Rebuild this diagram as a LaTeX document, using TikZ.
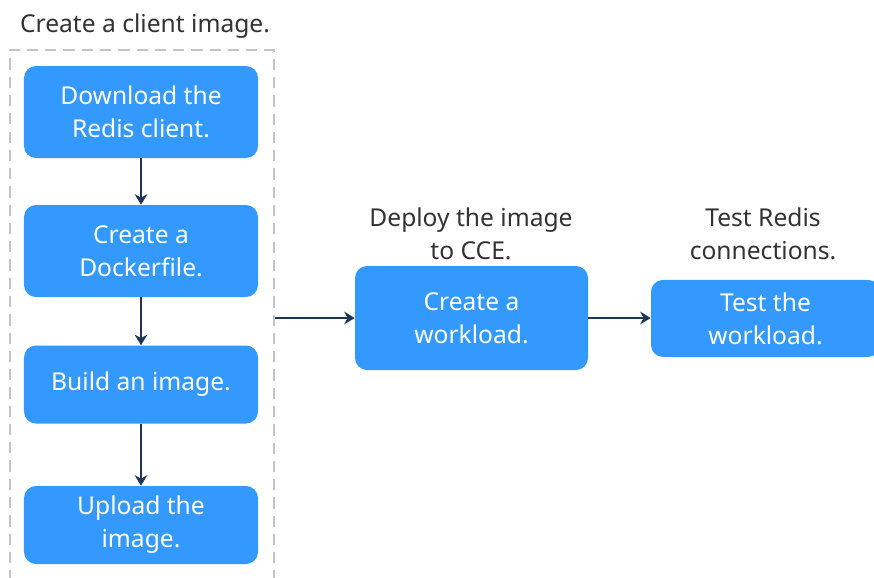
\documentclass[tikz,border=0pt]{standalone}
\usepackage{fontspec}
\setmainfont{Noto Sans}
\usepackage{xcolor}
\usetikzlibrary{arrows.meta}

\definecolor{stepblue}{HTML}{3399FF}
\definecolor{arrownavy}{HTML}{1F3556}
\definecolor{textgray}{HTML}{333333}
\definecolor{dashgray}{HTML}{C4C4C4}

\begin{document}
\begin{tikzpicture}[
    stepbox/.style={
        rectangle,
        rounded corners=0.3cm,
        fill=stepblue,
        draw=none,
        minimum width=5.85cm,
        align=center,
        text=white,
        font=\fontsize{17.5}{23.5}\selectfont
    },
    caption/.style={
        align=center,
        text=textgray,
        font=\fontsize{17.5}{23.5}\selectfont
    },
    arrow/.style={-{Stealth[length=7.5pt,width=9pt]}, line width=1.4pt, arrownavy}
]
\useasboundingbox (0,0) rectangle (21.85,-14.425);
\begin{scope}
\clip (0,0) rectangle (21.85,-14.425);

% client image group
\node[caption] (title) at (3.625,-0.65) {Create a client image.};
\draw[dashgray, line width=1.4pt, dash pattern=on 8pt off 5pt]
    (6.85,-15) -- (6.85,-1.25) -- (0.25,-1.25) -- (0.25,-15);
\coordinate (groupout) at (6.875,-7.95);

\node[stepbox, minimum height=2.3cm] (download) at (3.525,-2.8) {Download the\\Redis client.};
\node[stepbox, minimum height=2.3cm] (dockerfile) at (3.525,-6.275) {Create a\\Dockerfile.};
\node[stepbox, minimum height=1.95cm] (build) at (3.525,-9.6125) {Build an image.};
\node[stepbox, minimum height=1.95cm] (upload) at (3.525,-13.125) {Upload the\\image.};

% deploy and test
\node[caption] (deploylabel) at (11.775,-5.85) {Deploy the image\\to CCE.};
\node[stepbox, minimum width=5.825cm, minimum height=2.6cm] (workload) at (11.7875,-7.95) {Create a\\workload.};

\node[caption] (testlabel) at (19.075,-5.85) {Test Redis\\connections.};
\node[stepbox, minimum width=5.725cm, minimum height=1.925cm] (test) at (19.1375,-7.96) {Test the\\workload.};

\draw[arrow] (download) -- (dockerfile);
\draw[arrow] (dockerfile) -- (build);
\draw[arrow] (build) -- (upload);
\draw[arrow] (groupout) -- (workload);
\draw[arrow] (workload) -- (test.west |- workload);
\end{scope}

\end{tikzpicture}
\end{document}
